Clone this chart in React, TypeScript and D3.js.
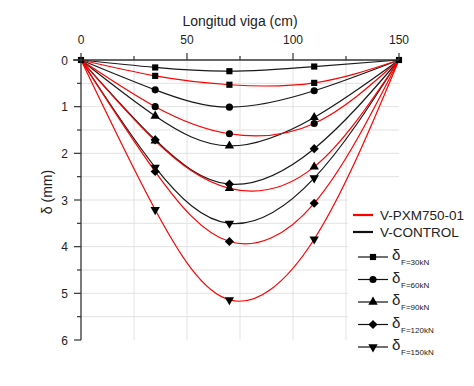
import React from "react";
import * as d3 from "d3";

const xPositions = [0, 35, 70, 110, 150];
const loadLabels = ["F=30kN", "F=60kN", "F=90kN", "F=120kN", "F=150kN"];
const controlSeries = [
  [0, 0.16, 0.24, 0.14, 0],
  [0, 0.64, 1.01, 0.66, 0],
  [0, 1.2, 1.84, 1.23, 0],
  [0, 1.71, 2.66, 1.9, 0],
  [0, 2.3, 3.5, 2.53, 0],
];
const pxmSeries = [
  [0, 0.34, 0.53, 0.49, 0],
  [0, 1.0, 1.58, 1.36, 0],
  [0, 1.73, 2.75, 2.29, 0],
  [0, 2.39, 3.89, 3.07, 0],
  [0, 3.21, 5.14, 3.84, 0],
];
const xTicks = [0, 50, 100, 150];
const xMinor = [25, 75, 125];
const yTicks = [0, 1, 2, 3, 4, 5, 6];
const yMinor = [0.5, 1.5, 2.5, 3.5, 4.5, 5.5];
const seriesNames = ["V-PXM750-01", "V-CONTROL"];

const FONT = "'Liberation Sans', Arial, sans-serif";

const symbolTypes = [
  d3.symbolSquare,
  d3.symbolCircle,
  d3.symbolTriangle,
  d3.symbolSquare,
  d3.symbolTriangle,
];

function Marker({ i, x, y }: { i: number; x: number; y: number }) {
  const size = i === 3 ? 42 : i === 1 ? 40 : 38;
  const path = d3.symbol().type(symbolTypes[i]).size(size)()!;
  const rot = i === 4 ? 180 : i === 3 ? 45 : 0;
  return <path d={path} transform={`translate(${x},${y}) rotate(${rot})`} fill="#000" />;
}

export default function App() {
  const x = d3.scaleLinear().domain([0, 150]).range([81, 399]);
  const y = d3.scaleLinear().domain([0, 6]).range([60, 340]);
  const line = d3
    .line<number>()
    .x((_, i) => x(xPositions[i]))
    .y((d) => y(d))
    .curve(d3.curveNatural);

  const gridColor = "#e2e2e2";
  const interior = (j: number) => j > 0 && j < xPositions.length - 1;

  return (
    <svg width={474} height={386} style={{ position: "absolute", left: 0, top: 0 }}>
      <rect width={474} height={386} fill="#fff" />
      {/* grid */}
      {[...xMinor, 50, 100].map((v) => (
        <line key={"gx" + v} x1={x(v)} x2={x(v)} y1={y(0)} y2={y(6)} stroke={gridColor} strokeWidth={1} />
      ))}
      {[...yMinor, 1, 2, 3, 4, 5].map((v) => (
        <line key={"gy" + v} x1={x(0)} x2={x(150)} y1={y(v)} y2={y(v)} stroke={gridColor} strokeWidth={1} />
      ))}

      {/* legend background */}
      <rect x={348} y={198} width={126} height={175} fill="#fff" />

      {/* series */}
      {controlSeries.map((s, i) => (
        <path key={"cl" + i} d={line(s)!} fill="none" stroke="#1a1a1a" strokeWidth={1.2} />
      ))}
      {pxmSeries.map((s, i) => (
        <path key={"pl" + i} d={line(s)!} fill="none" stroke="#ff0000" strokeWidth={1.2} />
      ))}
      {controlSeries.map((s, i) =>
        s.map((v, j) =>
          interior(j) || i === 0 ? <Marker key={`cm${i}-${j}`} i={interior(j) ? i : 0} x={x(xPositions[j])} y={y(v)} /> : null
        )
      )}
      {pxmSeries.map((s, i) =>
        s.map((v, j) =>
          interior(j) ? <Marker key={`pm${i}-${j}`} i={i} x={x(xPositions[j])} y={y(v)} /> : null
        )
      )}

      {/* top axis */}
      <line x1={x(0) - 8} x2={x(150)} y1={y(0)} y2={y(0)} stroke="#333" strokeWidth={1.3} />
      {xTicks.map((v) => (
        <g key={"xt" + v}>
          <line x1={x(v)} x2={x(v)} y1={y(0)} y2={y(0) - 7} stroke="#333" strokeWidth={1.2} />
          <text x={x(v)} y={44} textAnchor="middle" fontFamily={FONT} fontSize={12} fill="#222">
            {v}
          </text>
        </g>
      ))}
      {xMinor.map((v) => (
        <line key={"xm" + v} x1={x(v)} x2={x(v)} y1={y(0)} y2={y(0) - 4} stroke="#333" strokeWidth={1.2} />
      ))}
      <text x={240} y={26} textAnchor="middle" fontFamily={FONT} fontSize={14} fill="#222">
        Longitud viga (cm)
      </text>

      {/* left axis */}
      <line x1={x(0)} x2={x(0)} y1={y(0)} y2={y(6)} stroke="#333" strokeWidth={1.3} />
      {yTicks.map((v) => (
        <g key={"yt" + v}>
          <line x1={x(0) - 7} x2={x(0)} y1={y(v)} y2={y(v)} stroke="#333" strokeWidth={1.2} />
          <text x={68} y={y(v) + 4.5} textAnchor="end" fontFamily={FONT} fontSize={12} fill="#222">
            {v}
          </text>
        </g>
      ))}
      {yMinor.map((v) => (
        <line key={"ym" + v} x1={x(0) - 4} x2={x(0)} y1={y(v)} y2={y(v)} stroke="#333" strokeWidth={1.2} />
      ))}
      <text
        transform="translate(52,192) rotate(-90)"
        textAnchor="middle"
        fontFamily={FONT}
        fontSize={14}
        fill="#222"
      >
        δ (mm)
      </text>

      {/* legend */}
      <line x1={353} x2={373} y1={215} y2={215} stroke="#ff0000" strokeWidth={2.2} />
      <text x={380} y={220} fontFamily={FONT} fontSize={13.5} fill="#222">
        {seriesNames[0]}
      </text>
      <line x1={353} x2={373} y1={232} y2={232} stroke="#111" strokeWidth={2.2} />
      <text x={380} y={237} fontFamily={FONT} fontSize={13.5} fill="#222">
        {seriesNames[1]}
      </text>
      {loadLabels.map((lab, i) => {
        const ly = 257 + i * 22.5;
        return (
          <g key={"lg" + i}>
            <line x1={358} x2={388} y1={ly} y2={ly} stroke="#111" strokeWidth={1.2} />
            <Marker i={i} x={373} y={ly} />
            <text x={392} y={ly + 3} fontFamily={FONT} fontSize={15} fill="#222">
              δ
            </text>
            <text x={401} y={ly + 8} fontFamily={FONT} fontSize={8} fill="#222">
              {lab}
            </text>
          </g>
        );
      })}
    </svg>
  );
}
